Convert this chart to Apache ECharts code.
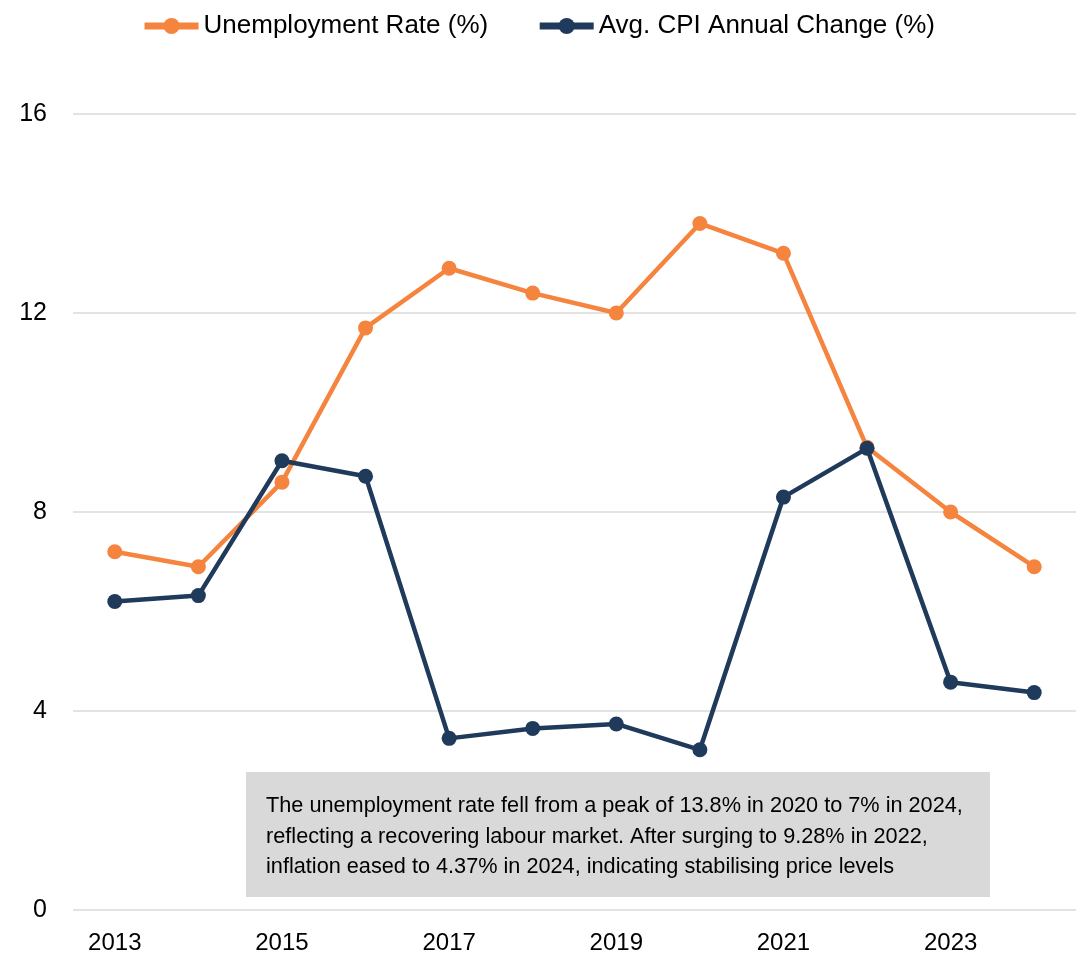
<!DOCTYPE html>
<html>
<head>
<meta charset="utf-8">
<script src="https://cdn.jsdelivr.net/npm/echarts@6/dist/echarts.min.js"></script>
<style>
html, body { margin: 0; padding: 0; background: #fff; }
#main { width: 1076px; height: 958px; }
</style>
</head>
<body>
<div id="main"></div>
<script>
var years = ['2013','2014','2015','2016','2017','2018','2019','2020','2021','2022','2023','2024'];
var unemployment = [7.2, 6.9, 8.6, 11.7, 12.9, 12.4, 12.0, 13.8, 13.2, 9.3, 8.0, 6.9];
var cpi = [6.2, 6.32, 9.03, 8.72, 3.45, 3.65, 3.74, 3.22, 8.3, 9.28, 4.58, 4.37];
var note = 'The unemployment rate fell from a peak of 13.8% in 2020 to 7% in 2024,\n' +
  'reflecting a recovering labour market. After surging to 9.28% in 2022,\n' +
  'inflation eased to 4.37% in 2024, indicating stabilising price levels';

var font = '"Liberation Sans Narrow", "Arial Narrow", "Liberation Sans", sans-serif';
var chart = echarts.init(document.getElementById('main'));

var option = {
  animation: false,
  textStyle: { fontFamily: font },
  legend: {
    top: 8,
    left: 'center',
    itemWidth: 54,
    itemHeight: 20,
    itemGap: 48,
    lineStyle: { width: 7 },
    textStyle: { fontSize: 26, color: '#000', fontFamily: font },
    data: ['Unemployment Rate (%)', 'Avg. CPI Annual Change (%)']
  },
  grid: { left: 73, right: -3, top: 114, bottom: 48 },
  xAxis: {
    type: 'category',
    data: years,
    boundaryGap: true,
    axisLine: { show: false },
    axisTick: { show: false },
    axisLabel: { interval: 1, fontSize: 24, color: '#000', margin: 21, fontFamily: font }
  },
  yAxis: {
    type: 'value',
    min: 0,
    max: 16,
    interval: 4,
    axisLine: { show: false },
    axisTick: { show: false },
    axisLabel: { fontSize: 25, color: '#000', margin: 26, fontFamily: font },
    splitLine: { lineStyle: { color: '#e3e3e3', width: 2 } }
  },
  series: [
    {
      name: 'Unemployment Rate (%)',
      type: 'line',
      data: unemployment,
      symbol: 'circle',
      symbolSize: 15,
      lineStyle: { width: 4.5, color: '#F5843F' },
      itemStyle: { color: '#F5843F' }
    },
    {
      name: 'Avg. CPI Annual Change (%)',
      type: 'line',
      data: cpi,
      symbol: 'circle',
      symbolSize: 15,
      lineStyle: { width: 4.5, color: '#1F3A5A' },
      itemStyle: { color: '#1F3A5A' }
    }
  ],
  graphic: [
    {
      type: 'rect',
      left: 246,
      top: 772,
      shape: { width: 744, height: 125 },
      style: { fill: '#d9d9d9' },
      z: 10
    },
    {
      type: 'text',
      left: 266,
      top: 791,
      z: 11,
      style: {
        text: note,
        font: '21.7px ' + font,
        lineHeight: 30.5,
        fill: '#000'
      }
    }
  ]
};

chart.setOption(option);
</script>
</body>
</html>
